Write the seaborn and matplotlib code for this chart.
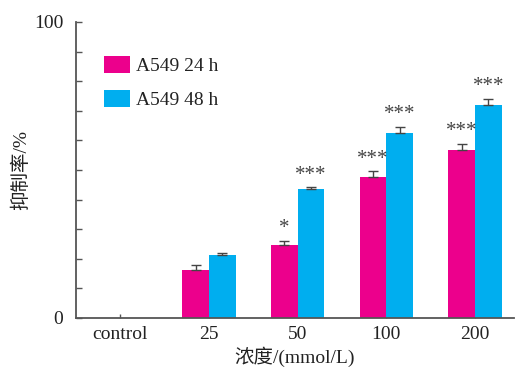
import numpy as np
import pandas as pd
import matplotlib
matplotlib.use('Agg')
import matplotlib.pyplot as plt
from matplotlib.ticker import MultipleLocator
import seaborn as sns

# данные
categories = ['control', '25', '50', '100', '200']
groups = ['A549 24 h', 'A549 48 h']
val_24h = [0, 16.2, 24.7, 47.6, 56.8]
val_48h = [0, 21.3, 43.6, 62.5, 72.0]
err_24h = [0, 1.6, 1.2, 1.9, 1.9]
err_48h = [0, 0.5, 0.5, 1.9, 1.9]
sig_24h = ['', '', '*', '***', '***']
sig_48h = ['', '', '***', '***', '***']
colors = ['#EC008C', '#00AEEF']

df = pd.DataFrame({
    'conc': categories * 2,
    'group': [groups[0]] * len(categories) + [groups[1]] * len(categories),
    'value': val_24h + val_48h,
})

sns.set_theme(style='ticks')
plt.rcParams['font.family'] = ['Liberation Serif', 'Noto Sans CJK SC']

fig = plt.figure(figsize=(5.19, 3.69), dpi=100)
ax = fig.add_axes([76 / 519, 51 / 369, 438 / 519, 296 / 369])

sns.barplot(data=df, x='conc', y='value', hue='group', order=categories,
            hue_order=groups, palette=colors, width=0.6, errorbar=None,
            saturation=1, linewidth=0, ax=ax)

# планки погрешностей и звёздочки над столбцами
errs = err_24h + err_48h
sigs = sig_24h + sig_48h
bars = [p for p in ax.patches if p.get_width() > 0][:len(errs)]
for bar, e, s, v in zip(bars, errs, sigs, val_24h + val_48h):
    xc = bar.get_x() + bar.get_width() / 2
    if e > 0:
        ax.errorbar(xc, v, yerr=[[0], [e]], fmt='none', ecolor='#444444',
                    elinewidth=1.0, capsize=3.5, capthick=1.0)
    if s:
        ax.text(xc, v + e + 1.0, s, ha='center', va='bottom',
                fontsize=15, color='#444444')

ax.set_xlim(-0.5, 4.44)
ax.set_ylim(0, 100)
ax.yaxis.set_major_locator(MultipleLocator(100))
ax.yaxis.set_minor_locator(MultipleLocator(10))
ax.tick_params(axis='both', which='both', direction='in', colors='#555555',
               labelcolor='#222222', labelsize=14, width=1.0)
ax.tick_params(axis='y', which='both', length=4, pad=9)
ax.tick_params(axis='x', length=3, pad=6)

for side in ['top', 'right']:
    ax.spines[side].set_visible(False)
for side in ['left', 'bottom']:
    ax.spines[side].set_color('#555555')
    ax.spines[side].set_linewidth(1.3)

ax.set_xlabel('浓度/(mmol/L)', fontsize=14, color='#222222', labelpad=2)
ax.set_ylabel('抑制率/%', fontsize=14, color='#222222')
ax.yaxis.set_label_coords(-0.105, 0.5)

leg = ax.legend(loc='upper left', bbox_to_anchor=(0.025, 0.945), frameon=False,
                fontsize=14, handlelength=1.3, handleheight=1.0,
                handletextpad=0.3, labelspacing=0.75)
for t in leg.get_texts():
    t.set_color('#222222')

fig.savefig('out.png', dpi=100)
